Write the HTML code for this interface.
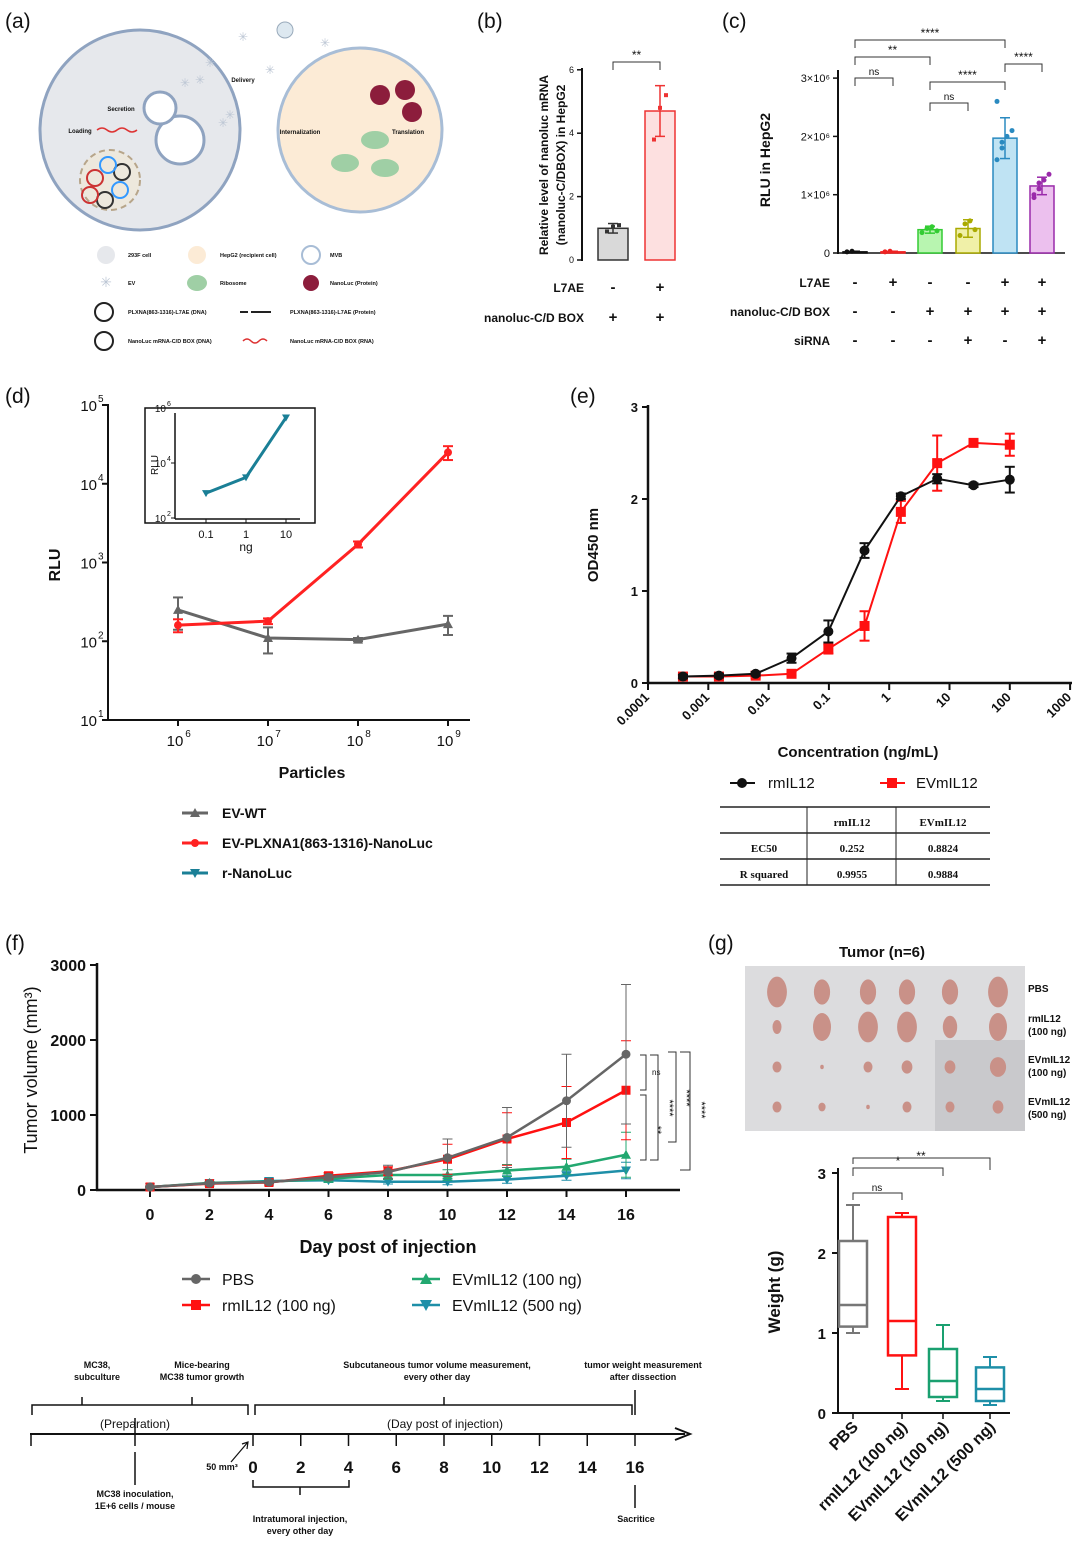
<!DOCTYPE html>
<html><head><meta charset="utf-8"><style>
html,body{margin:0;padding:0;background:#fff;}
svg{display:block;font-family:"Liberation Sans",Arial,sans-serif;}
</style></head><body>
<svg id="fig" width="1080" height="1544" viewBox="0 0 1080 1544" xmlns="http://www.w3.org/2000/svg"></svg>
<script>
// ---------- data ----------
const bGroups = ["ctrl","L7AE"];
const bValues = [1.0, 4.7];
const bErr = [0.15, 0.8];
const bPoints = [[0.9,1.05,1.1],[3.8,4.8,5.2]];
const bTicks = [0,2,4,6];

const cValues = [0.02,0.02,0.40,0.42,1.97,1.15];
const cErr = [0.01,0.01,0.06,0.15,0.35,0.15];
const cPoints = [[0.02,0.03],[0.02,0.03],[0.35,0.42,0.45,0.38],[0.3,0.5,0.55,0.4],[1.6,1.8,2.0,2.1,2.6,1.9],[1.0,1.1,1.25,1.35,0.95,1.2]];
const cTicks = [0,1,2,3];
const cTickLabels = ["0","1×10⁶","2×10⁶","3×10⁶"];

const dParticles = [1e6,1e7,1e8,1e9];
const dWT = [250,110,105,165];
const dWTerr = [110,40,5,45];
const dPLX = [160,180,1700,25000];
const dPLXerr = [30,15,150,5000];
const dInsetX = [0.1,1,10];
const dInsetY = [800,3000,450000];
const dTicks = [1,2,3,4,5];
const dXTickExp = [6,7,8,9];

const eConc = [0.00038,0.0015,0.0061,0.024,0.098,0.39,1.56,6.25,25,100];
const eRm = [0.07,0.08,0.10,0.27,0.56,1.44,2.03,2.22,2.15,2.21];
const eRmErr = [0.02,0.02,0.02,0.05,0.12,0.08,0.03,0.05,0.02,0.14];
const eEV = [0.07,0.07,0.08,0.10,0.37,0.62,1.86,2.39,2.61,2.59];
const eEVerr = [0.02,0.02,0.02,0.02,0.05,0.16,0.12,0.3,0.03,0.12];
const eXTicks = ["0.0001","0.001","0.01","0.1","1","10","100","1000"];
const eYTicks = [0,1,2,3];

const fDays = [0,2,4,6,8,10,12,14,16];
const fPBS = [40,90,105,170,240,430,700,1190,1810];
const fPBSerr = [10,20,20,40,90,250,400,620,930];
const fRm = [40,85,100,190,250,410,680,900,1330];
const fRmErr = [10,20,20,40,60,200,350,480,660];
const fEV100 = [40,95,110,150,200,200,260,310,470];
const fEV100err = [10,20,30,40,60,70,80,100,300];
const fEV500 = [40,90,120,130,110,110,140,190,260];
const fEV500err = [10,20,30,30,30,40,50,60,110];
const fYTicks = [0,1000,2000,3000];

const gNames = ["PBS","rmIL12 (100 ng)","EVmIL12 (100 ng)","EVmIL12 (500 ng)"];
const gMin = [1.0,0.3,0.15,0.1];
const gQ1 = [1.08,0.72,0.2,0.15];
const gMed = [1.35,1.15,0.4,0.3];
const gQ3 = [2.15,2.45,0.8,0.57];
const gMax = [2.6,2.5,1.1,0.7];
const gTicks = [0,1,2,3];

// ---------- helpers ----------
const NS="http://www.w3.org/2000/svg";
const svg=document.getElementById('fig');
function el(tag,attrs,name,parent){
  const e=document.createElementNS(NS,tag);
  for(const k in attrs) e.setAttribute(k,attrs[k]);
  
  
  (parent||svg).appendChild(e);
  return e;
}
function T(x,y,s,size,name,o){
  o=o||{};
  const a={x:x,y:y,'font-size':size,'fill':o.fill||'#111','text-anchor':o.anchor||'middle'};
  if(o.bold!==false) a['font-weight']='bold';
  if(o.rot!==undefined) a.transform='rotate('+o.rot+' '+x+' '+y+')';
  if(o.family) a['font-family']=o.family;
  const t=el('text',a,name);
  t.textContent=s;
  return t;
}
function L(x1,y1,x2,y2,name,c,w){return el('line',{x1:x1,y1:y1,x2:x2,y2:y2,stroke:c||'#111','stroke-width':w||2},name);}
function P(d,name,c,w,f){return el('path',{d:d,stroke:c||'#111','stroke-width':w||2,fill:f||'none'},name);}
function errbar(x,y1,y2,name,c,w){L(x,y1,x,y2,name,c,w||1.5);L(x-5,y1,x+5,y1,name,c,w||1.5);L(x-5,y2,x+5,y2,name,c,w||1.5);}
function bracket(x1,x2,y,label,name){P('M'+x1+' '+(y+8)+' V'+y+' H'+x2+' V'+(y+8),name,'#333',1);T((x1+x2)/2,y-3,label,label==='ns'?10:12,name+'-label',{bold:false});}

// ---------- panel letters ----------
[["(a)",5,28],["(b)",477,28],["(c)",722,28],["(d)",5,403],["(e)",570,403],["(f)",5,950],["(g)",708,950]].forEach(p=>{
  T(p[1],p[2],p[0],21,'panel-label',{anchor:'start',bold:false});
});

// ---------- panel a (schematic) ----------
el('circle',{cx:140,cy:130,r:100,fill:'#e6e8ec',stroke:'#8fa3c0','stroke-width':3},'donor-cell-293f');
el('circle',{cx:180,cy:140,r:24,fill:'#fff',stroke:'#8fa3c0','stroke-width':3},'mvb-1');
el('circle',{cx:160,cy:108,r:16,fill:'#fff',stroke:'#8fa3c0','stroke-width':3},'mvb-2');
el('circle',{cx:110,cy:180,r:30,fill:'#ede8dd',stroke:'#b7a58a','stroke-width':2,'stroke-dasharray':'6 4'},'nucleus');
[[95,178,'#c33'],[120,190,'#39f'],[105,200,'#333'],[90,195,'#c33'],[122,172,'#333'],[108,165,'#39f']].forEach(c=>{
  el('circle',{cx:c[0],cy:c[1],r:8,fill:'none',stroke:c[2],'stroke-width':2},'plasmid');
});
el('circle',{cx:360,cy:130,r:82,fill:'#fcebd6',stroke:'#a8bdd6','stroke-width':3},'recipient-cell-hepg2');
[[380,95],[405,90],[412,112]].forEach(c=>el('circle',{cx:c[0],cy:c[1],r:10,fill:'#8c1d3c'},'nanoluc-protein'));
[[375,140],[345,163],[385,168]].forEach(c=>el('ellipse',{cx:c[0],cy:c[1],rx:14,ry:9,fill:'#9fcfa5'},'ribosome'));
el('circle',{cx:285,cy:30,r:8,fill:'#dde8f0',stroke:'#9ab','stroke-width':1},'ev-delivery');
[[243,37],[210,63],[200,80],[230,115],[223,123],[270,70],[325,43],[185,83]].forEach(c=>T(c[0],c[1]+4,'✳',12,'ev-icon',{fill:'#bcc6d4',bold:false}));
T(121,111,'Secretion',6,'label-secretion');
T(80,133,'Loading',6,'label-loading');
T(243,82,'Delivery',6,'label-delivery');
T(300,134,'Internalization',6,'label-internalization');
T(408,134,'Translation',6,'label-translation');
P('M97 130 q5 -4 10 0 t10 0 t10 0 t10 0','rna-loading','#d33',1.5);
const aLeg=[[104,255,'293F cell',200,'HepG2 (recipient cell)',312,'MVB'],[104,283,'EV',200,'Ribosome',312,'NanoLuc (Protein)'],[104,312,'PLXNA(863-1316)-L7AE (DNA)',270,'PLXNA(863-1316)-L7AE (Protein)',0,''],[104,341,'NanoLuc mRNA-C/D BOX (DNA)',270,'NanoLuc mRNA-C/D BOX (RNA)',0,'']];
aLeg.forEach((r,i)=>{
  T(128,r[1]+2,r[2],5.5,'schematic-legend-text',{anchor:'start'});
  T(r[3]+20,r[1]+2,r[4],5.5,'schematic-legend-text',{anchor:'start'});
  if(r[6]) T(r[5]+18,r[1]+2,r[6],5.5,'schematic-legend-text',{anchor:'start'});
});
el('circle',{cx:106,cy:255,r:9,fill:'#e6e8ec'},'legend-icon-293f');
el('circle',{cx:197,cy:255,r:9,fill:'#fcebd6'},'legend-icon-hepg2');
el('circle',{cx:311,cy:255,r:9,fill:'none',stroke:'#a8bdd6','stroke-width':2},'legend-icon-mvb');
T(106,287,'✳',14,'legend-icon-ev',{fill:'#bcc6d4',bold:false});
el('ellipse',{cx:197,cy:283,rx:10,ry:8,fill:'#9fcfa5'},'legend-icon-ribosome');
el('circle',{cx:311,cy:283,r:8,fill:'#8c1d3c'},'legend-icon-nanoluc');
el('circle',{cx:104,cy:312,r:9,fill:'none',stroke:'#222','stroke-width':2},'legend-icon-plxna-dna');
el('circle',{cx:104,cy:341,r:9,fill:'none',stroke:'#222','stroke-width':2},'legend-icon-nanoluc-dna');
P('M240 312 h8 m3 0 h20','legend-icon-protein','#222',2);
P('M243 341 q4 -4 8 0 t8 0 t8 0','legend-icon-rna','#d33',1.5);

// ---------- panel b ----------
const bY=v=>260-v*31.7;
const bX=[613,660];
L(582,68,582,261,'b-y-axis');
bTicks.forEach(t=>{L(577,bY(t),582,bY(t),'b-y-tick',null,1.5);T(574,bY(t)+3,String(t),9,'b-y-tick-label',{anchor:'end',bold:false});});
const bFill=['#d9d9d9','#fde0e0'],bStroke=['#333','#e33'];
bGroups.forEach((g,i)=>{
  el('rect',{x:bX[i]-15,y:bY(bValues[i]),width:30,height:260-bY(bValues[i]),fill:bFill[i],stroke:bStroke[i],'stroke-width':1.5},'b-bar-'+g);
  errbar(bX[i],bY(bValues[i]+bErr[i]),bY(bValues[i]-bErr[i]),'b-error-bar',bStroke[i]);
  bPoints[i].forEach((p,j)=>el('rect',{x:bX[i]-8+j*6,y:bY(p)-2,width:4,height:4,fill:bStroke[i]},'b-point'));
});
bracket(613,660,62,'**','b-significance');
T(548,165,'Relative level of nanoluc mRNA',12,'b-y-axis-title',{rot:-90});
T(565,165,'(nanoluc-C/DBOX) in HepG2',12,'b-y-axis-title',{rot:-90});
T(584,292,'L7AE',12,'b-row-label-l7ae',{anchor:'end'});
T(584,322,'nanoluc-C/D BOX',12,'b-row-label-nanoluc',{anchor:'end'});
[['-','+'],['+','+']].forEach((r,ri)=>r.forEach((s,i)=>T(bX[i],292+ri*30,s,15,'b-sign')));

// ---------- panel c ----------
const cY=v=>253-v*58.3;
const cX=[855,893,930,968,1005,1042];
const cFill=['#555','#faa','#b8f5b0','#f0f0a8','#bfe3f3','#ecc0ee'];
const cStroke=['#111','#e22','#3c3','#aa0','#2a8ac0','#9a2aaa'];
L(838,70,838,254,'c-y-axis');
L(838,253,1065,253,'c-x-axis',null,1.5);
cTicks.forEach((t,i)=>{L(833,cY(t),838,cY(t),'c-y-tick',null,1.5);T(830,cY(t)+4,cTickLabels[i],11,'c-y-tick-label',{anchor:'end',bold:false});});
cValues.forEach((v,i)=>{
  el('rect',{x:cX[i]-12,y:cY(v),width:24,height:Math.max(253-cY(v),1),fill:cFill[i],stroke:cStroke[i],'stroke-width':1.5},'c-bar');
  errbar(cX[i],cY(v+cErr[i]),cY(Math.max(v-cErr[i],0)),'c-error-bar',cStroke[i]);
  cPoints[i].forEach((p,j)=>el('circle',{cx:cX[i]-8+(j%4)*5,cy:cY(p),r:2.5,fill:cStroke[i]},'c-point'));
});
bracket(855,893,78,'ns','c-sig-ns1');
bracket(855,930,57,'**','c-sig-2');
bracket(855,1005,40,'****','c-sig-3');
bracket(930,968,103,'ns','c-sig-ns2');
bracket(930,1005,82,'****','c-sig-4');
bracket(1005,1042,64,'****','c-sig-5');
T(770,160,'RLU in HepG2',14,'c-y-axis-title',{rot:-90});
const cRows=[['L7AE',['-','+','-','-','+','+']],['nanoluc-C/D BOX',['-','-','+','+','+','+']],['siRNA',['-','-','-','+','-','+']]];
cRows.forEach((r,ri)=>{
  T(830,287+ri*29,r[0],12,'c-row-label',{anchor:'end'});
  r[1].forEach((s,i)=>T(cX[i],287+ri*29,s,15,'c-sign'));
});

// ---------- panel d ----------
const dY=v=>720-(Math.log10(v)-1)*78.75;
const dX=p=>178+(Math.log10(p)-6)*90;
L(108,404,108,720,'d-y-axis');
L(108,720,470,720,'d-x-axis');
dTicks.forEach(t=>{
  L(102,dY(Math.pow(10,t)),108,dY(Math.pow(10,t)),'d-y-tick');
  T(97,dY(Math.pow(10,t))+6,'10',15,'d-y-tick-label',{anchor:'end',bold:false});
  T(98,dY(Math.pow(10,t))-3,String(t),10,'d-y-tick-exp',{anchor:'start',bold:false});
});
dXTickExp.forEach(t=>{
  L(dX(Math.pow(10,t)),720,dX(Math.pow(10,t)),726,'d-x-tick');
  T(dX(Math.pow(10,t))-3,746,'10',15,'d-x-tick-label',{bold:false});
  T(dX(Math.pow(10,t))+10,737,String(t),10,'d-x-tick-exp',{bold:false});
});
function dSeries(vals,errs,color,name,marker){
  let d='';
  vals.forEach((v,i)=>{d+=(i?'L':'M')+dX(dParticles[i])+' '+dY(v);});
  P(d,name+'-line',color,3);
  vals.forEach((v,i)=>{
    errbar(dX(dParticles[i]),dY(v+errs[i]),dY(Math.max(v-errs[i],1.1)),name+'-error',color,2);
    const x=dX(dParticles[i]),y=dY(v);
    if(marker==='tri') el('path',{d:'M'+(x-5)+' '+(y+4)+' L'+x+' '+(y-5)+' L'+(x+5)+' '+(y+4)+'Z',fill:color},name+'-point');
    else el('circle',{cx:x,cy:y,r:4,fill:color},name+'-point');
  });
}
dSeries(dWT,dWTerr,'#666','d-ev-wt','tri');
dSeries(dPLX,dPLXerr,'#f22','d-ev-plxna1','dot');
T(60,565,'RLU',16,'d-y-axis-title',{rot:-90});
T(312,778,'Particles',16,'d-x-axis-title');
el('rect',{x:145,y:408,width:170,height:115,fill:'#fff',stroke:'#111','stroke-width':1.5},'d-inset-frame');
const iY=v=>518-(Math.log10(v)-2)*27.5;
const iX=n=>246+Math.log10(n)*40;
L(175,413,175,519,'d-inset-y-axis',null,1.5);
L(175,519,300,519,'d-inset-x-axis',null,1.5);
[2,4,6].forEach(t=>{L(171,iY(Math.pow(10,t)),175,iY(Math.pow(10,t)),'d-inset-y-tick',null,1);T(166,iY(Math.pow(10,t))+4,'10',10,'d-inset-y-tick-label',{anchor:'end',bold:false});T(167,iY(Math.pow(10,t))-2,String(t),7,'d-inset-y-exp',{anchor:'start',bold:false});});
dInsetX.forEach(n=>{L(iX(n),519,iX(n),523,'d-inset-x-tick',null,1);T(iX(n),538,String(n),11,'d-inset-x-tick-label',{bold:false});});
let idd='';dInsetX.forEach((n,i)=>{idd+=(i?'L':'M')+iX(n)+' '+iY(dInsetY[i]);});
P(idd,'d-inset-rnanoluc-line','#1a7f96',3);
dInsetX.forEach((n,i)=>el('path',{d:'M'+(iX(n)-4)+' '+(iY(dInsetY[i])-3)+' L'+(iX(n)+4)+' '+(iY(dInsetY[i])-3)+' L'+iX(n)+' '+(iY(dInsetY[i])+4)+'Z',fill:'#1a7f96'},'d-inset-point'));
T(158,465,'RLU',10,'d-inset-y-title',{rot:-90,bold:false});
T(246,551,'ng',12,'d-inset-x-title',{bold:false});
[['EV-WT','#666','tri'],['EV-PLXNA1(863-1316)-NanoLuc','#f22','dot'],['r-NanoLuc','#1a7f96','inv']].forEach((l,i)=>{
  const y=813+i*30;
  L(182,y,208,y,'d-legend-line',l[1],3);
  if(l[2]==='dot') el('circle',{cx:195,cy:y,r:4,fill:l[1]},'d-legend-marker');
  else if(l[2]==='tri') el('path',{d:'M190 '+(y+4)+' L195 '+(y-5)+' L200 '+(y+4)+'Z',fill:l[1]},'d-legend-marker');
  else el('path',{d:'M190 '+(y-4)+' L200 '+(y-4)+' L195 '+(y+5)+'Z',fill:l[1]},'d-legend-marker');
  T(222,y+5,l[0],14,'d-legend-label',{anchor:'start'});
});

// ---------- panel e ----------
const eX=c=>648+(Math.log10(c)+4)*60.3;
const eY=v=>683-v*92;
L(648,405,648,684,'e-y-axis',null,2.5);
L(647,683,1072,683,'e-x-axis',null,2.5);
eYTicks.forEach(t=>{L(642,eY(t),648,eY(t),'e-y-tick');T(638,eY(t)+5,String(t),13,'e-y-tick-label',{anchor:'end'});});
eXTicks.forEach((s,i)=>{const x=648+i*60.3;L(x,683,x,690,'e-x-tick');T(x+2,698,s,13,'e-x-tick-label',{anchor:'end',rot:-45});});
function eSeries(vals,errs,color,name,sq){
  let d='';vals.forEach((v,i)=>{d+=(i?'L':'M')+eX(eConc[i])+' '+eY(v);});
  P(d,name+'-line',color,2);
  vals.forEach((v,i)=>{
    errbar(eX(eConc[i]),eY(v+errs[i]),eY(v-errs[i]),name+'-error',color,2);
    if(sq) el('rect',{x:eX(eConc[i])-5,y:eY(v)-5,width:10,height:10,fill:color},name+'-point');
    else el('circle',{cx:eX(eConc[i]),cy:eY(v),r:5,fill:color},name+'-point');
  });
}
eSeries(eEV,eEVerr,'#f11','e-evmil12',true);
eSeries(eRm,eRmErr,'#111','e-rmil12',false);
T(598,545,'OD450 nm',15,'e-y-axis-title',{rot:-90});
T(858,757,'Concentration (ng/mL)',15,'e-x-axis-title');
L(730,783,755,783,'e-legend-line-rmil12',null,2);
el('circle',{cx:742,cy:783,r:5,fill:'#111'},'e-legend-marker-rmil12');
T(768,788,'rmIL12',15,'e-legend-label-rmil12',{anchor:'start',bold:false});
L(880,783,905,783,'e-legend-line-evmil12','#f11',2);
el('rect',{x:887,y:778,width:10,height:10,fill:'#f11'},'e-legend-marker-evmil12');
T(916,788,'EVmIL12',15,'e-legend-label-evmil12',{anchor:'start',bold:false});
[807,833,859,885].forEach(y=>L(720,y,990,y,'e-table-rule','#222',1.5));
L(807,807,807,885,'e-table-col-rule','#222',1);L(896,807,896,885,'e-table-col-rule','#222',1);
const tf='"Liberation Serif",serif';
T(852,826,'rmIL12',11,'e-table-header',{family:tf});T(943,826,'EVmIL12',11,'e-table-header',{family:tf});
T(764,852,'EC50',11,'e-table-row-label',{family:tf});T(852,852,'0.252',11,'e-table-cell',{family:tf});T(943,852,'0.8824',11,'e-table-cell',{family:tf});
T(764,878,'R squared',11,'e-table-row-label',{family:tf});T(852,878,'0.9955',11,'e-table-cell',{family:tf});T(943,878,'0.9884',11,'e-table-cell',{family:tf});

// ---------- panel f ----------
const fX=d=>150+d*29.75;
const fY=v=>1190-v*0.075;
L(97,963,97,1191,'f-y-axis',null,2.5);
L(96,1190,680,1190,'f-x-axis',null,2.5);
fYTicks.forEach(t=>{L(90,fY(t),97,fY(t),'f-y-tick');T(86,fY(t)+6,String(t),16,'f-y-tick-label',{anchor:'end'});});
fDays.forEach(d=>{L(fX(d),1190,fX(d),1197,'f-x-tick');T(fX(d),1220,String(d),16,'f-x-tick-label');});
function fSeries(vals,errs,color,name,mk){
  let d='';vals.forEach((v,i)=>{d+=(i?'L':'M')+fX(fDays[i])+' '+fY(v);});
  P(d,name+'-line',color,2.5);
  vals.forEach((v,i)=>{
    errbar(fX(fDays[i]),fY(v+errs[i]),fY(Math.max(v-errs[i],0)),name+'-error',color,1);
    const x=fX(fDays[i]),y=fY(v);
    if(mk==='c') el('circle',{cx:x,cy:y,r:4.5,fill:color},name+'-point');
    else if(mk==='s') el('rect',{x:x-4.5,y:y-4.5,width:9,height:9,fill:color},name+'-point');
    else if(mk==='t') el('path',{d:'M'+(x-5)+' '+(y+4)+' L'+x+' '+(y-5)+' L'+(x+5)+' '+(y+4)+'Z',fill:color},name+'-point');
    else el('path',{d:'M'+(x-5)+' '+(y-4)+' L'+(x+5)+' '+(y-4)+' L'+x+' '+(y+5)+'Z',fill:color},name+'-point');
  });
}
fSeries(fEV500,fEV500err,'#1e8fa8','f-evmil12-500','v');
fSeries(fEV100,fEV100err,'#22a870','f-evmil12-100','t');
fSeries(fRm,fRmErr,'#f11','f-rmil12','s');
fSeries(fPBS,fPBSerr,'#666','f-pbs','c');
P('M640 1055 H646 V1090 H640','f-sig-ns','#333',1);T(652,1075,'ns',8,'f-sig-ns-label',{anchor:'start',bold:false});
P('M640 1095 H646 V1160 H640','f-sig-1','#333',1);T(654,1130,'**',11,'f-sig-1-label',{rot:90,bold:false});
P('M650 1055 H658 V1160 H650','f-sig-2','#333',1);T(666,1108,'****',11,'f-sig-2-label',{rot:90,bold:false});
P('M668 1052 H676 V1142 H668','f-sig-3','#333',1);T(683,1098,'****',11,'f-sig-3-label',{rot:90,bold:false});
P('M680 1052 H690 V1170 H680','f-sig-4','#333',1);T(698,1110,'****',11,'f-sig-4-label',{rot:90,bold:false});
T(37,1070,'Tumor volume (mm³)',18,'f-y-axis-title',{rot:-90,bold:false});
T(388,1253,'Day post of injection',18,'f-x-axis-title');
[['PBS',182,1279,'#666','c'],['rmIL12 (100 ng)',182,1305,'#f11','s'],['EVmIL12 (100 ng)',412,1279,'#22a870','t'],['EVmIL12 (500 ng)',412,1305,'#1e8fa8','v']].forEach(l=>{
  L(l[1],l[2],l[1]+28,l[2],'f-legend-line',l[3],2.5);
  const x=l[1]+14,y=l[2];
  if(l[4]==='c') el('circle',{cx:x,cy:y,r:5,fill:l[3]},'f-legend-marker');
  else if(l[4]==='s') el('rect',{x:x-5,y:y-5,width:10,height:10,fill:l[3]},'f-legend-marker');
  else if(l[4]==='t') el('path',{d:'M'+(x-6)+' '+(y+5)+' L'+x+' '+(y-6)+' L'+(x+6)+' '+(y+5)+'Z',fill:l[3]},'f-legend-marker');
  else el('path',{d:'M'+(x-6)+' '+(y-5)+' L'+(x+6)+' '+(y-5)+' L'+x+' '+(y+6)+'Z',fill:l[3]},'f-legend-marker');
  T(l[1]+40,l[2]+6,l[0],16,'f-legend-label',{anchor:'start',bold:false});
});

// ---------- timeline ----------
const tlX=d=>253+d*23.875;
P('M32 1415 V1405 H248 V1415','timeline-brace-preparation','#111',1.5);
L(82,1405,82,1397,'timeline-brace-tick',null,1.5);L(192,1405,192,1397,'timeline-brace-tick',null,1.5);
P('M255 1415 V1405 H632 V1415','timeline-brace-injection','#111',1.5);
L(444,1405,444,1397,'timeline-brace-tick',null,1.5);L(635,1390,635,1415,'timeline-brace-tick',null,1.5);
T(135,1428,'(Preparation)',12,'timeline-preparation-label',{bold:false});
T(445,1428,'(Day post of injection)',12,'timeline-injection-label',{bold:false});
L(30,1434,685,1434,'timeline-axis',null,2);
P('M675 1428 L690 1434 L675 1440','timeline-arrow','#111',2);
L(31,1434,31,1446,'timeline-tick',null,1.5);
L(135,1418,135,1446,'timeline-tick-inoculation',null,1.5);
L(135,1452,135,1485,'timeline-tick-inoculation',null,1.5);
fDays.forEach(d=>{L(tlX(d),1434,tlX(d),1446,'timeline-day-tick',null,1.5);T(tlX(d),1473,String(d),17,'timeline-day-label',{bold:true});});
L(635,1485,635,1508,'timeline-sacrifice-line',null,1.5);
P('M253 1480 V1487 H349 V1480 M300 1487 V1495','timeline-injection-brace','#111',1.5);
P('M231 1462 L248 1442 M242 1444 L248 1442 L247 1449','timeline-50mm-arrow','#111',1.2);
T(222,1470,'50 mm³',9,'timeline-50mm-label');
T(97,1368,'MC38,',9,'timeline-text');T(97,1380,'subculture',9,'timeline-text');
T(202,1368,'Mice-bearing',9,'timeline-text');T(202,1380,'MC38 tumor growth',9,'timeline-text');
T(437,1368,'Subcutaneous tumor volume measurement,',9,'timeline-text');T(437,1380,'every other day',9,'timeline-text');
T(643,1368,'tumor weight measurement',9,'timeline-text');T(643,1380,'after dissection',9,'timeline-text');
T(135,1497,'MC38 inoculation,',9,'timeline-text');T(135,1509,'1E+6 cells / mouse',9,'timeline-text');
T(300,1522,'Intratumoral injection,',9,'timeline-text');T(300,1534,'every other day',9,'timeline-text');
T(636,1522,'Sacritice',9,'timeline-text');

// ---------- panel g ----------
T(882,957,'Tumor (n=6)',15,'g-photo-title');
el('rect',{x:745,y:966,width:280,height:165,fill:'#dcdcde'},'g-tumor-photo');
el('rect',{x:935,y:1040,width:90,height:91,fill:'#c9c9cc'},'g-photo-shadow');
const phCols=[777,822,868,907,950,998];
const phRows=[992,1027,1067,1107];
const phSize=[[11,9,9,9,9,11],[5,10,11,11,8,10],[5,2,5,6,6,9],[5,4,2,5,5,6]];
phRows.forEach((y,ri)=>phCols.forEach((x,ci)=>el('ellipse',{cx:x,cy:y,rx:phSize[ri][ci]*0.9,ry:phSize[ri][ci]*(ri===0||ri===1?1.4:1.1),fill:'#c99188'},'g-tumor')));
[['PBS',992,''],['rmIL12',1022,'(100 ng)'],['EVmIL12',1063,'(100 ng)'],['EVmIL12',1105,'(500 ng)']].forEach(l=>{
  T(1028,l[1],l[0],10,'g-photo-row-label',{anchor:'start'});
  if(l[2]) T(1028,l[1]+13,l[2],10,'g-photo-row-label',{anchor:'start'});
});
const gY=v=>1413-v*80;
const gX=[853,902,943,990];
const gCol=['#777','#f11','#1aa070','#1e8fa8'];
L(838,1168,838,1414,'g-y-axis',null,2);
L(837,1413,1010,1413,'g-x-axis',null,2);
gTicks.forEach(t=>{L(832,gY(t),838,gY(t),'g-y-tick');T(826,gY(t)+6,String(t),15,'g-y-tick-label',{anchor:'end'});});
gNames.forEach((n,i)=>{
  const x=gX[i],c=gCol[i];
  L(x,gY(gMax[i]),x,gY(gQ3[i]),'g-whisker',c,2);L(x,gY(gQ1[i]),x,gY(gMin[i]),'g-whisker',c,2);
  L(x-7,gY(gMax[i]),x+7,gY(gMax[i]),'g-whisker-cap',c,2);L(x-7,gY(gMin[i]),x+7,gY(gMin[i]),'g-whisker-cap',c,2);
  el('rect',{x:x-14,y:gY(gQ3[i]),width:28,height:gY(gQ1[i])-gY(gQ3[i]),fill:'none',stroke:c,'stroke-width':2.5},'g-box-'+i);
  L(x-14,gY(gMed[i]),x+14,gY(gMed[i]),'g-median',c,2.5);
  L(x,1413,x,1419,'g-x-tick',null,1.5);
  T(x+6,1428,n,16,'g-x-tick-label',{anchor:'end',rot:-45});
});
P('M853 1176 V1168 H943 V1176','g-sig-1','#333',1);T(898,1165,'*',12,'g-sig-1-label',{bold:false});
P('M853 1164 V1158 H990 V1170','g-sig-2','#333',1);T(921,1160,'**',12,'g-sig-2-label',{bold:false});
P('M853 1200 V1193 H902 V1200','g-sig-ns','#333',1);T(877,1191,'ns',10,'g-sig-ns-label',{bold:false});
T(780,1292,'Weight (g)',17,'g-y-axis-title',{rot:-90});
</script>
</body></html>
